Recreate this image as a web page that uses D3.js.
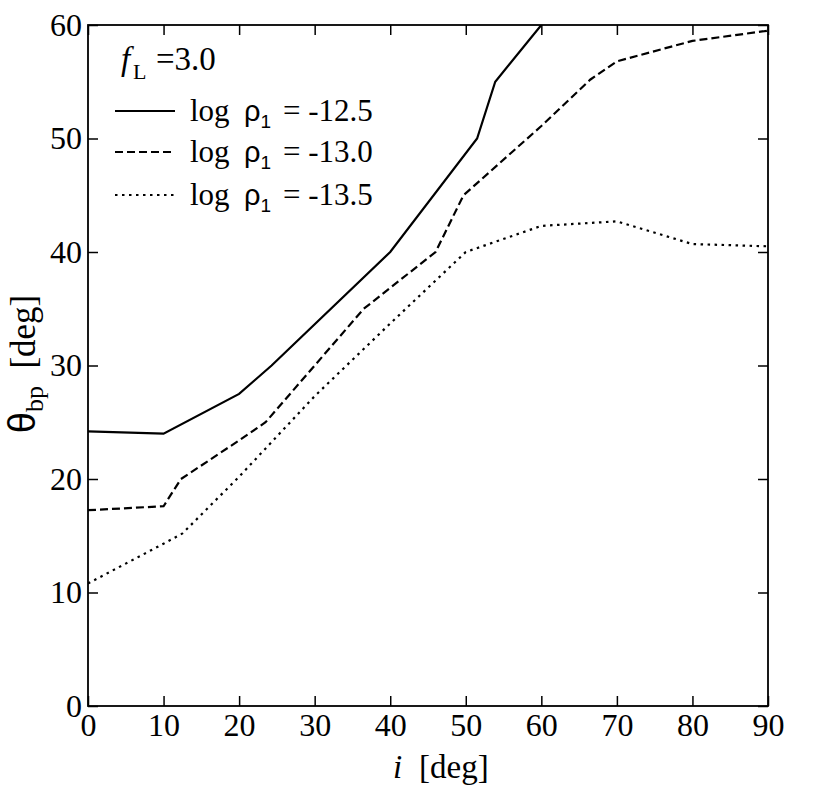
<!DOCTYPE html>
<html>
<head>
<meta charset="utf-8">
<script src="https://cdn.jsdelivr.net/npm/d3@7"></script>
<style>
  body { margin: 0; background: #fff; }
</style>
</head>
<body>
<div id="chart"></div>
<script>
// data: [i (deg), theta_bp (deg)]
const rhoM125 = [[0,24.2],[10,24.0],[20,27.5],[24.3,30],[40,40],[51.5,50],[53.9,55],[60,60]];
const rhoM130 = [[0,17.25],[10,17.6],[12.3,20],[20,23.4],[23.5,25],[30,30],[36.5,35],[46,40],
                 [49.7,45],[60,51.1],[66.5,55.2],[70,56.8],[80,58.6],[90,59.5]];
const rhoM135 = [[0,10.8],[10,14.3],[12.5,15.2],[20,20.2],[30,27.3],[40,33.7],[50,40],
                 [60,42.3],[70,42.7],[80,40.7],[90,40.5]];

const seriesLabels = ["-12.5", "-13.0", "-13.5"];
const seriesData = [rhoM125, rhoM130, rhoM135];
const seriesDash = [null, "8,4", "2.5,4.5"];

const xTicks = d3.range(0, 91, 10);
const yTicks = d3.range(0, 61, 10);

const SERIF = "'Liberation Serif'";
const SANS = "'Liberation Sans'";

const width = 830, height = 788;
const margin = { top: 25, right: 62, bottom: 82, left: 88 };
const innerW = width - margin.left - margin.right;
const innerH = height - margin.top - margin.bottom;

const svg = d3.select("#chart").append("svg")
  .attr("width", width)
  .attr("height", height);

const g = svg.append("g")
  .attr("transform", `translate(${margin.left},${margin.top})`);

const x = d3.scaleLinear().domain([0, 90]).range([0, innerW]);
const y = d3.scaleLinear().domain([0, 60]).range([innerH, 0]);

// axes: ticks point inward on all four sides
const tickLen = 10;
const styleAxis = sel => {
  sel.attr("font-family", null).attr("font-size", null);
  sel.select(".domain").remove();
  sel.selectAll(".tick line").attr("stroke", "#000").attr("stroke-width", 1.5);
  sel.selectAll(".tick text").style("font-size", "32px").style("font-family", SERIF);
};

g.append("g")
  .attr("transform", `translate(0,${innerH})`)
  .call(d3.axisBottom(x).tickValues(xTicks).tickSizeInner(-tickLen).tickSizeOuter(0))
  .call(styleAxis)
  .selectAll(".tick text").attr("y", 30).attr("dy", null);

g.append("g")
  .call(d3.axisTop(x).tickValues(xTicks).tickSizeInner(-tickLen).tickSizeOuter(0).tickFormat(""))
  .call(styleAxis);

g.append("g")
  .call(d3.axisLeft(y).tickValues(yTicks).tickSizeInner(-tickLen).tickSizeOuter(0).tickPadding(6))
  .call(styleAxis);

g.append("g")
  .attr("transform", `translate(${innerW},0)`)
  .call(d3.axisRight(y).tickValues(yTicks).tickSizeInner(-tickLen).tickSizeOuter(0).tickFormat(""))
  .call(styleAxis);

// frame
g.append("rect")
  .attr("width", innerW).attr("height", innerH)
  .attr("fill", "none").attr("stroke", "#000").attr("stroke-width", 1.8);

// clip so the solid line stops at the top
g.append("clipPath").attr("id", "plotclip")
  .append("rect").attr("width", innerW).attr("height", innerH);

const line = d3.line().x(d => x(d[0])).y(d => y(d[1]));

seriesData.forEach((data, k) => {
  g.append("path")
    .datum(data)
    .attr("clip-path", "url(#plotclip)")
    .attr("fill", "none")
    .attr("stroke", "#000")
    .attr("stroke-width", 2.2)
    .attr("stroke-dasharray", seriesDash[k])
    .attr("d", line);
});

// legend
const fl = svg.append("text").attr("x", 121).attr("y", 70)
  .style("font-family", SERIF).style("font-size", "33px");
fl.append("tspan").style("font-style", "italic").text("f");
fl.append("tspan").attr("x", 133).attr("dy", 9).style("font-size", "22px").text("L");
fl.append("tspan").attr("x", 156).attr("dy", -9).text("=3.0");

const legendY = [111, 152, 195];
seriesLabels.forEach((lab, k) => {
  svg.append("line")
    .attr("x1", 115).attr("x2", 175)
    .attr("y1", legendY[k]).attr("y2", legendY[k])
    .attr("stroke", "#000").attr("stroke-width", 2.2)
    .attr("stroke-dasharray", seriesDash[k]);
  const t = svg.append("text").attr("x", 190).attr("y", legendY[k] + 10)
    .style("font-family", SERIF).style("font-size", "31px");
  t.append("tspan").text("log");
  t.append("tspan").attr("x", 244).style("font-family", SANS).style("font-size", "29px").text("ρ");
  t.append("tspan").attr("dy", 7).style("font-family", SANS)
    .style("font-size", "19px").text("1");
  t.append("tspan").attr("x", 283).attr("dy", -7).text("= " + lab);
});

// axis labels
const xl = svg.append("text")
  .attr("x", 393).attr("y", 778)
  .style("font-family", SERIF).style("font-size", "33px");
xl.append("tspan").style("font-style", "italic").text("i");
xl.append("tspan").attr("x", 419).text("[deg]");

const yl = svg.append("text")
  .attr("transform", `translate(35,364) rotate(-90)`)
  .attr("text-anchor", "middle")
  .style("font-family", SERIF).style("font-size", "35px");
yl.append("tspan").style("font-family", SANS).style("font-size", "38px").text("θ");
yl.append("tspan").attr("dy", 8).style("font-size", "26px").text("bp");
yl.append("tspan").attr("dy", -8).text("\u2002[deg]");
</script>
</body>
</html>
